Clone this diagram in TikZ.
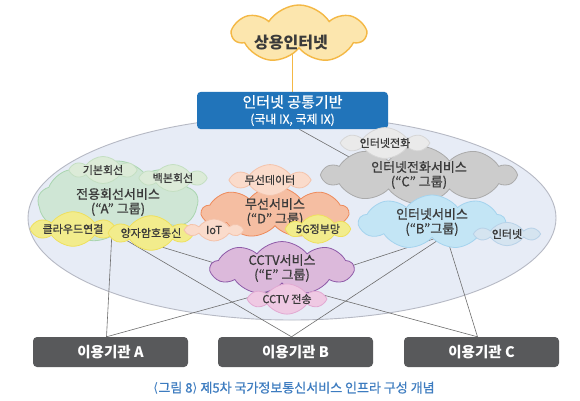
\documentclass[tikz,border=0pt]{standalone}
\usepackage{fontspec}
\setmainfont{Noto Sans CJK KR}
\newfontfamily\medfont[FakeBold=0.8]{Noto Sans CJK KR}
\newfontfamily\dvfont{DejaVu Sans}
\usetikzlibrary{shapes.symbols,calc}
\pgfdeclarelayer{bg}
\pgfdeclarelayer{lines}
\pgfsetlayers{bg,lines,main}
\definecolor{txt}{HTML}{3A3A3A}
\definecolor{topfill}{HTML}{FCE6AE}
\definecolor{topline}{HTML}{F4B845}
\definecolor{ixblue}{HTML}{2174BA}
\definecolor{ellfill}{HTML}{E7ECF6}
\definecolor{ellline}{HTML}{B6B9C4}
\definecolor{afill}{HTML}{CFE6D5}
\definecolor{aline}{HTML}{A9D5AF}
\definecolor{asfill}{HTML}{DCEBD8}
\definecolor{asline}{HTML}{C4DFC2}
\definecolor{yfill}{HTML}{F2EC8C}
\definecolor{yline}{HTML}{EFE05C}
\definecolor{dfill}{HTML}{F5BEA2}
\definecolor{dline}{HTML}{EE8A5B}
\definecolor{dsfill}{HTML}{FADBCB}
\definecolor{dsline}{HTML}{F4C3AB}
\definecolor{cfill}{HTML}{CCCCCC}
\definecolor{cline}{HTML}{AAAAAA}
\definecolor{csfill}{HTML}{EAEAEA}
\definecolor{csline}{HTML}{D6D6D6}
\definecolor{bfill}{HTML}{C3E5F5}
\definecolor{bline}{HTML}{A4D3EE}
\definecolor{bsfill}{HTML}{D5E4F0}
\definecolor{bsline}{HTML}{B8D2E8}
\definecolor{efill}{HTML}{DCB9DB}
\definecolor{eline}{HTML}{8E5AA8}
\definecolor{esfill}{HTML}{EFC9E3}
\definecolor{esline}{HTML}{E2A9D2}
\definecolor{boxgray}{HTML}{58595B}
\definecolor{capblue}{HTML}{3D7CC0}
\definecolor{linegray}{HTML}{6E6E6E}
\tikzset{
  cl/.style={cloud, cloud ignores aspect, draw, line width=0.8pt, inner sep=0pt, align=center, text=txt},
  bigcl/.style={cl, cloud puffs=9, cloud puff arc=105, font=\fontsize{13}{14.5}\medfont},
  smallcl/.style={cl, cloud puffs=6, cloud puff arc=110, font=\fontsize{11}{11}\medfont},
  org/.style={fill=boxgray, rounded corners=4pt, text=white, font=\fontsize{14.5}{15}\selectfont\bfseries, minimum width=155pt, minimum height=30pt},
  conn/.style={draw=linegray, line width=0.6pt},
}
\begin{document}
\begin{tikzpicture}[x=1pt,y=-1pt]
\useasboundingbox (0,0) rectangle (580,400);
\begin{pgfonlayer}{bg}
  \fill[white] (0,0) rectangle (580,400);
  \draw[fill=ellfill, draw=ellline, line width=0.9pt] (292,218) ellipse [x radius=264, y radius=102];
\end{pgfonlayer}

% top cloud and IX box
\node[cl, cloud puffs=7, cloud puff arc=115, fill=topfill, draw=topline, line width=1.4pt, minimum width=132pt, minimum height=58pt] (top) at (299,34) {};
\node[text=txt, font=\fontsize{16}{16}\selectfont\bfseries] (toptxt) at (291,43) {상용인터넷};
\node[fill=ixblue, rounded corners=4pt, minimum width=191pt, minimum height=35pt, text=white, align=center, font=\fontsize{15}{16}\medfont] (ix) at (292.5,110.5)
  {인터넷 공통기반\\{\fontsize{12}{12}\medfont (국내 IX, 국제 IX)}};

% group A
\node[bigcl, fill=afill, draw=aline, minimum width=160pt, minimum height=82pt] (A) at (118,202) {전용회선서비스\\(“A” 그룹)};
\node[smallcl, fill=asfill, draw=asline, minimum width=62pt, minimum height=20pt] (a1) at (103,170) {기본회선};
\node[smallcl, fill=asfill, draw=asline, minimum width=62pt, minimum height=18pt] (a2) at (173,178) {백본회선};
\node[smallcl, fill=yfill, draw=yline, minimum width=78pt, minimum height=28pt] (a3) at (73,229) {클라우드연결};
\node[smallcl, fill=yfill, draw=yline, minimum width=76pt, minimum height=28pt] (a4) at (151,233) {양자암호통신};

% group D
\node[bigcl, fill=dfill, draw=dline, minimum width=146pt, minimum height=50pt] (D) at (275,212) {무선서비스\\(“D” 그룹)};
\node[smallcl, fill=dsfill, draw=dsline, minimum width=74pt, minimum height=18pt] (d1) at (270,180) {무선데이터};
\node[smallcl, fill=dsfill, draw=dsline, minimum width=54pt, minimum height=22pt] (d2) at (214,230) {IoT};
\node[smallcl, fill=yfill, draw=yline, minimum width=60pt, minimum height=18pt] (d3) at (318,229) {5G정부망};

% group C
\node[bigcl, cloud puffs=10, fill=cfill, draw=cline, minimum width=192pt, minimum height=54pt] (C) at (419,175) {인터넷전화서비스\\(“C” 그룹)};
\node[smallcl, fill=csfill, draw=csline, minimum width=80pt, minimum height=24pt] (c1) at (385,143) {인터넷전화};

% group B
\node[bigcl, fill=bfill, draw=bline, minimum width=146pt, minimum height=54pt] (B) at (432,222) {인터넷서비스\\(“B”그룹)};
\node[smallcl, fill=bsfill, draw=bsline, minimum width=60pt, minimum height=22pt] (b1) at (507,234) {인터넷};

% group E
\node[bigcl, fill=efill, draw=eline, minimum width=143pt, minimum height=50pt] (E) at (282,268) {CCTV서비스\\(“E” 그룹)};
\node[smallcl, fill=esfill, draw=esline, minimum width=72pt, minimum height=25pt] (e1) at (287,299) {CCTV 전송};

% user boxes
\node[org] (boxA) at (110.5,352) {이용기관 A};
\node[org] (boxB) at (295.5,352) {이용기관 B};
\node[org] (boxC) at (481.5,352) {이용기관 C};

\node[text=capblue, font=\fontsize{13}{14}\medfont] (cap) at (294,388) {{\dvfont ⟨}그림 8{\dvfont ⟩} 제5차 국가정보통신서비스 인프라 구성 개념};

\coordinate (hub) at (290,286);
\coordinate (cin) at (360,163);
\begin{pgfonlayer}{lines}
  \draw[draw=topline, line width=1.5pt] (ix.north) -- (ix.north |- top.center);
  \draw[conn] ([xshift=7pt]ix.south) -- (cin);
  \draw[conn] ([xshift=-6pt]A.south) -- ([xshift=-4pt]boxA.north);
  \draw[conn] ([xshift=-6pt]A.south) -- (hub);
  \draw[conn] ([xshift=-6pt]A.south) -- ([xshift=-4pt]boxB.north);
  \draw[conn] ([xshift=14pt,yshift=3pt]B.south) -- (hub);
  \draw[conn] ([xshift=14pt,yshift=3pt]B.south) -- ([xshift=-4pt]boxB.north);
  \draw[conn] ([xshift=14pt,yshift=3pt]B.south) -- ([xshift=-4pt]boxC.north);
  \draw[conn] ([xshift=-4pt]boxA.north) -- (hub);
  \draw[conn] (hub) -- ([xshift=-4pt]boxC.north);
\end{pgfonlayer}
\end{tikzpicture}
\end{document}
